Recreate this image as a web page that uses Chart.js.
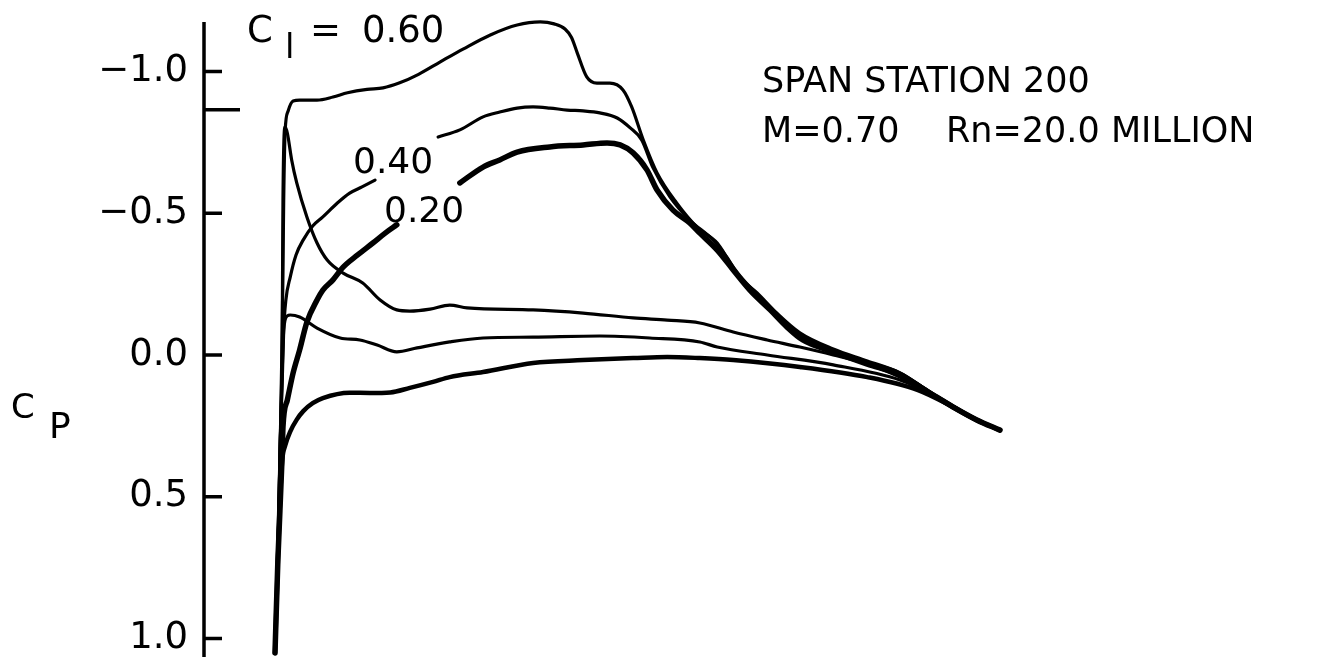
<!DOCTYPE html>
<html>
<head>
<meta charset="utf-8">
<script src="https://cdn.jsdelivr.net/npm/chart.js@4.4.1/dist/chart.umd.min.js"></script>
<style>
  html, body { margin: 0; padding: 0; background: #fff; }
  #wrap { width: 1320px; height: 657px; position: relative; }
</style>
</head>
<body>
<div id="wrap"><canvas id="cp"></canvas></div>
<script>
// Cp axis ticks (the unlabelled one is the critical Cp mark)
const tickValues = [-1.0, -0.865, -0.5, 0.0, 0.5, 1.0];
const tickLabels = ["\u22121.0", "", "\u22120.5", "0.0", "0.5", "1.0"];
const liftLabels = ["0.60", "0.40", "0.20"];

// chord station x/c and Cp (null = gap under a label)
const upper60X = [0, 0.004, 0.007, 0.010, 0.012, 0.014, 0.018, 0.025, 0.034, 0.058, 0.080, 0.100, 0.127, 0.149, 0.172, 0.198, 0.228, 0.260, 0.297, 0.334, 0.366, 0.385, 0.400, 0.409, 0.417, 0.430, 0.444, 0.462, 0.480, 0.492, 0.508, 0.527, 0.554, 0.582, 0.610, 0.628, 0.646, 0.673, 0.701, 0.728, 0.770, 0.817, 0.862, 0.899, 0.935, 0.968, 1.0];
const upper60Cp = [1.051, 0.723, 0.335, -0.088, -0.547, -0.790, -0.860, -0.896, -0.899, -0.899, -0.910, -0.925, -0.937, -0.942, -0.960, -0.990, -1.034, -1.080, -1.129, -1.164, -1.175, -1.168, -1.150, -1.120, -1.065, -0.981, -0.959, -0.959, -0.935, -0.875, -0.758, -0.642, -0.536, -0.451, -0.395, -0.325, -0.265, -0.194, -0.123, -0.063, -0.018, 0.025, 0.063, 0.123, 0.183, 0.229, 0.265];

const upper40X = [0, 0.004, 0.007, 0.010, 0.012, 0.015, 0.021, 0.029, 0.039, 0.052, 0.066, 0.086, 0.103, 0.120, 0.138, 0.180, 0.225, 0.255, 0.287, 0.310, 0.334, 0.356, 0.379, 0.403, 0.425, 0.448, 0.472, 0.490, 0.506, 0.521, 0.545, 0.572, 0.604, 0.623, 0.641, 0.665, 0.692, 0.724, 0.770, 0.817, 0.862, 0.899, 0.935, 0.968, 1.0];
const upper40Cp = [1.051, 0.653, 0.335, 0.088, -0.088, -0.194, -0.275, -0.353, -0.406, -0.455, -0.487, -0.536, -0.571, -0.593, -0.617, null, -0.769, -0.794, -0.840, -0.857, -0.871, -0.875, -0.871, -0.864, -0.861, -0.854, -0.836, -0.801, -0.758, -0.663, -0.557, -0.476, -0.406, -0.346, -0.275, -0.219, -0.148, -0.078, -0.021, 0.021, 0.063, 0.123, 0.180, 0.226, 0.265];

const upper20X = [0, 0.004, 0.010, 0.011, 0.017, 0.025, 0.034, 0.044, 0.058, 0.066, 0.080, 0.094, 0.114, 0.135, 0.152, 0.168, 0.210, 0.255, 0.287, 0.310, 0.334, 0.379, 0.425, 0.458, 0.476, 0.494, 0.513, 0.527, 0.549, 0.572, 0.586, 0.610, 0.632, 0.655, 0.683, 0.706, 0.728, 0.770, 0.817, 0.862, 0.899, 0.935, 0.968, 1.0];
const upper20Cp = [1.051, 0.723, 0.346, 0.254, 0.159, 0.063, -0.018, -0.116, -0.194, -0.229, -0.265, -0.310, -0.353, -0.395, -0.430, -0.459, null, -0.607, -0.663, -0.688, -0.716, -0.734, -0.741, -0.748, -0.741, -0.713, -0.653, -0.582, -0.511, -0.466, -0.430, -0.370, -0.300, -0.229, -0.159, -0.099, -0.053, -0.011, 0.032, 0.071, 0.127, 0.183, 0.229, 0.265];

const lower20X = [0, 0.004, 0.007, 0.010, 0.011, 0.014, 0.017, 0.023, 0.030, 0.044, 0.058, 0.072, 0.094, 0.121, 0.145, 0.168, 0.186, 0.214, 0.241, 0.265, 0.356, 0.425, 0.494, 0.541, 0.586, 0.632, 0.679, 0.724, 0.770, 0.817, 0.862, 0.899, 0.935, 0.968, 1.0];
const lower20Cp = [1.051, 0.723, 0.335, -0.088, -0.547, -0.804, -0.783, -0.688, -0.607, -0.487, -0.395, -0.335, -0.289, -0.254, -0.194, -0.159, -0.155, -0.162, -0.176, -0.166, -0.159, -0.148, -0.131, -0.123, -0.113, -0.081, -0.053, -0.028, 0.0, 0.032, 0.078, 0.131, 0.187, 0.233, 0.265];

const lower40X = [0, 0.004, 0.007, 0.010, 0.012, 0.017, 0.021, 0.034, 0.058, 0.090, 0.117, 0.141, 0.168, 0.196, 0.241, 0.287, 0.356, 0.448, 0.517, 0.586, 0.610, 0.679, 0.770, 0.862, 0.917, 0.968, 1.0];
const lower40Cp = [1.051, 0.723, 0.335, 0.053, -0.088, -0.138, -0.141, -0.134, -0.095, -0.060, -0.053, -0.035, -0.011, -0.025, -0.046, -0.060, -0.063, -0.067, -0.060, -0.046, -0.028, 0.0, 0.035, 0.088, 0.152, 0.229, 0.265];

const lower60X = [0, 0.004, 0.007, 0.010, 0.014, 0.021, 0.030, 0.039, 0.052, 0.066, 0.103, 0.131, 0.159, 0.186, 0.218, 0.241, 0.287, 0.356, 0.425, 0.494, 0.541, 0.586, 0.632, 0.724, 0.817, 0.886, 0.935, 0.968, 1.0];
const lower60Cp = [1.051, 0.723, 0.511, 0.370, 0.320, 0.270, 0.228, 0.198, 0.170, 0.152, 0.133, 0.134, 0.132, 0.116, 0.095, 0.078, 0.060, 0.028, 0.018, 0.011, 0.007, 0.011, 0.018, 0.042, 0.078, 0.123, 0.183, 0.229, 0.265];

const FONT = '"DejaVu Sans", "Liberation Sans", sans-serif';

function curve(label, xs, cps, width) {
    return {
        label,
        data: xs.map((x, i) => ({ x, y: cps[i] })),
        borderColor: "#000",
        borderWidth: width,
        pointRadius: 0,
        cubicInterpolationMode: "monotone",
        borderCapStyle: "round",
        borderJoinStyle: "round",
        fill: false
    };
}

// axis line, inward tick marks and the lettering
const annotate = {
    id: "annotate",
    afterDraw(chart) {
        const { ctx, chartArea, scales: { y } } = chart;
        const ax = chartArea.left - 1;
        ctx.save();
        ctx.strokeStyle = "#000";
        ctx.lineWidth = 3.5;
        ctx.beginPath();
        ctx.moveTo(ax, y.getPixelForValue(-1.175));
        ctx.lineTo(ax, chartArea.bottom);
        tickValues.forEach((v, i) => {
            const py = y.getPixelForValue(v);
            ctx.moveTo(ax, py);
            ctx.lineTo(ax + (tickLabels[i] ? 18 : 36), py);
        });
        ctx.stroke();

        ctx.fillStyle = "#000";
        ctx.textBaseline = "alphabetic";
        ctx.textAlign = "left";
        const text = (s, x, yy, size) => {
            ctx.font = size + "px " + FONT;
            ctx.fillText(s, x, yy);
        };
        // axis title c_P
        text("C", 11, 418, 34);
        text("P", 49, 438, 36);
        // lift coefficient labels
        text("C", 247, 42, 37);
        text("l", 285, 58, 34);
        text("=", 310, 42, 37);
        text(liftLabels[0], 362, 42, 37);
        text(liftLabels[1], 353, 173, 36);
        text(liftLabels[2], 384, 222, 36);
        // test conditions
        text("SPAN STATION 200", 762, 92, 35);
        text("M=0.70", 762, 142, 35);
        text("Rn=20.0 MILLION", 946, 142, 35);
        ctx.restore();
    }
};

new Chart(document.getElementById("cp"), {
    type: "line",
    data: {
        datasets: [
            curve("0.60 upper", upper60X, upper60Cp, 3.2),
            curve("0.40 upper", upper40X, upper40Cp, 3.2),
            curve("0.20 upper", upper20X, upper20Cp, 5.5),
            curve("0.20 lower", lower20X, lower20Cp, 3.2),
            curve("0.40 lower", lower40X, lower40Cp, 3.2),
            curve("0.60 lower", lower60X, lower60Cp, 4.5)
        ]
    },
    options: {
        responsive: true,
        maintainAspectRatio: false,
        animation: false,
        layout: { padding: 0 },
        scales: {
            x: {
                type: "linear",
                display: false,
                min: -0.09655,
                max: 1.4414
            },
            y: {
                type: "linear",
                reverse: true,
                min: -1.2522,
                max: 1.0653,
                grid: { display: false, drawTicks: false },
                border: { display: false },
                afterBuildTicks: scale => {
                    scale.ticks = tickValues.map(v => ({ value: v }));
                },
                afterFit: scale => {
                    scale.width = 205;
                    scale.paddingTop = 0;
                    scale.paddingBottom = 0;
                },
                ticks: {
                    autoSkip: false,
                    padding: 17,
                    color: "#000",
                    font: { family: FONT, size: 37 },
                    callback: (value, index) => tickLabels[index]
                }
            }
        },
        plugins: {
            legend: { display: false },
            tooltip: { enabled: false }
        }
    },
    plugins: [annotate]
});
</script>
</body>
</html>
